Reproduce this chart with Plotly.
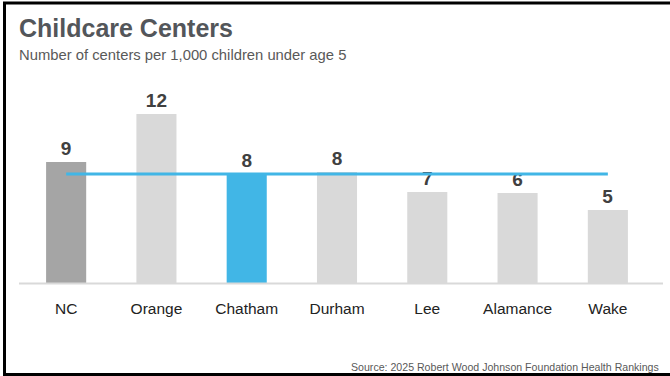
import plotly.graph_objects as go

# Childcare centers per 1,000 children under age 5
counties = ["NC", "Orange", "Chatham", "Durham", "Lee", "Alamance", "Wake"]
centers = [8.7, 12.15, 7.85, 7.98, 6.55, 6.47, 5.25]
bar_colors = ["#a5a5a5", "#d9d9d9", "#41b6e6", "#d9d9d9", "#d9d9d9", "#d9d9d9", "#d9d9d9"]
reference_county = "Chatham"

W, H = 670, 376
L, R, T, B = 21, 17, 88, 93
PW, PH = W - L - R, H - T - B


def px_x(p):
    return (p - L) / PW


def px_y(p):
    return (H - B - p) / PH


ref_value = centers[counties.index(reference_county)]

fig = go.Figure()
fig.add_trace(go.Bar(
    x=counties, y=centers,
    marker=dict(color=bar_colors, line=dict(width=0)),
    text=centers, texttemplate="%{y:.0f}", textposition="outside",
    textfont=dict(family="Liberation Sans", size=19, color="#404040", weight="bold"),
    cliponaxis=False, hoverinfo="skip",
))
fig.add_trace(go.Scatter(
    x=counties, y=[ref_value] * len(counties), mode="lines",
    line=dict(color="#41b6e6", width=3), hoverinfo="skip",
))

shapes = [
    # baseline
    dict(type="line", xref="paper", yref="paper", x0=px_x(19), x1=px_x(663),
         y0=px_y(283.5), y1=px_y(283.5), line=dict(color="#d9d9d9", width=2)),
    # frame
    dict(type="line", xref="paper", yref="paper", x0=px_x(4.5), x1=px_x(4.5),
         y0=px_y(2), y1=px_y(376), line=dict(color="#000000", width=3)),
    dict(type="line", xref="paper", yref="paper", x0=px_x(3), x1=px_x(670),
         y0=px_y(3), y1=px_y(3), line=dict(color="#000000", width=3)),
    dict(type="line", xref="paper", yref="paper", x0=px_x(3), x1=px_x(670),
         y0=px_y(374.5), y1=px_y(374.5), line=dict(color="#000000", width=3)),
]

annotations = [
    dict(text="<b>Childcare Centers</b>", xref="paper", yref="paper",
         x=px_x(17), y=px_y(28.5), xanchor="left", yanchor="middle", showarrow=False,
         font=dict(family="Liberation Sans", size=25, color="#53565a")),
    dict(text="Number of centers per 1,000 children under age 5", xref="paper", yref="paper",
         x=px_x(17), y=px_y(55), xanchor="left", yanchor="middle", showarrow=False,
         font=dict(family="Liberation Sans", size=14.8, color="#595959")),
    dict(text="Source: 2025 Robert Wood Johnson Foundation Health Rankings",
         xref="paper", yref="paper", x=px_x(661), y=px_y(367), xanchor="right",
         yanchor="middle", showarrow=False,
         font=dict(family="Liberation Sans", size=10.6, color="#595959")),
]

fig.update_layout(
    width=W, height=H,
    margin=dict(l=L, r=R, t=T, b=B),
    paper_bgcolor="white", plot_bgcolor="white",
    showlegend=False, bargap=0.556,
    shapes=shapes, annotations=annotations,
    xaxis=dict(showline=False, showgrid=False, zeroline=False, ticks="",
               tickfont=dict(family="Liberation Sans", size=15.5, color="#222222"),
               ticklabelstandoff=14),
    yaxis=dict(range=[0, PH / 13.9], visible=False, showgrid=False, zeroline=False),
)

fig.write_html("out.html")
